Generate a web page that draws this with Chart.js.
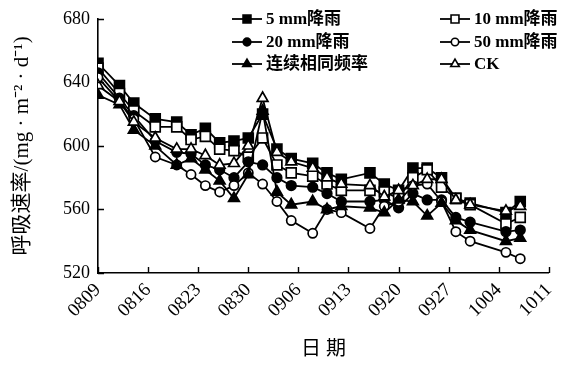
<!DOCTYPE html>
<html>
<head>
<meta charset="utf-8">
<script src="https://cdn.jsdelivr.net/npm/chart.js@4.4.1/dist/chart.umd.min.js"></script>
<style>
  html, body { margin: 0; padding: 0; background: #ffffff; }
  #wrap { width: 571px; height: 365px; position: relative; }
</style>
</head>
<body>
<div id="wrap"><canvas id="c" width="571" height="365"></canvas></div>
<script>
// Sampling dates (MMDD)
const sampleDates = ['0809','0812','0814','0817','0820','0822','0824','0826','0828','0830',
  '0901','0903','0905','0908','0910','0912','0916','0918','0920','0922',
  '0924','0926','0928','0930','1005','1007'];

// Axis tick labels (weekly)
const tickLabels = ['0809','0816','0823','0830','0906','0913','0920','0927','1004','1011'];

// Soil respiration rate, mg·m⁻²·d⁻¹
const rain5  = [652,638,627,617,615,607,611,602,603,605,620,598,592,589,583,579,583,576,572,586,586,580,567,564,558,565];
const rain10 = [649,633,622,612,612,604,606,598,597,593,605,588,583,581,576,572,572,571,567,580,585,574,567,563,551,555];
const rain20 = [646,630,619,603,596,595,588,585,580,590,588,580,575,574,570,565,565,566,561,570,566,566,555,552,546,547];
const rain50 = [643,628,617,593,588,582,575,571,575,583,576,565,553,545,560,558,548,562,565,575,576,565,546,540,533,529];
const steady = [632,626,610,600,588,592,585,578,567,582,622,571,563,565,560,562,561,558,566,565,556,564,553,547,540,542];
const ck     = [638,628,615,605,598,598,594,588,589,600,630,596,590,586,580,576,575,568,572,575,579,579,566,563,559,562];

const seriesNames = ['5 mm降雨','10 mm降雨','20 mm降雨','50 mm降雨','连续相同频率','CK'];

function dayOffset(mmdd) {
  const base = Date.UTC(2000, 7, 9);
  const d = Date.UTC(2000, parseInt(mmdd.slice(0, 2), 10) - 1, parseInt(mmdd.slice(2), 10));
  return Math.round((d - base) / 86400000);
}
const xDays = sampleDates.map(dayOffset);
const xMax = dayOffset(tickLabels[tickLabels.length - 1]);

const styles = [
  { pointStyle: 'rect',     fill: '#000', radius: 7.0 },
  { pointStyle: 'rect',     fill: '#fff', radius: 7.0 },
  { pointStyle: 'circle',   fill: '#000', radius: 4.8 },
  { pointStyle: 'circle',   fill: '#fff', radius: 4.6 },
  { pointStyle: 'triangle', fill: '#000', radius: 6.2 },
  { pointStyle: 'triangle', fill: '#fff', radius: 6.2 }
];
const values = [rain5, rain10, rain20, rain50, steady, ck];

const datasets = values.map((v, i) => ({
  label: seriesNames[i],
  data: v.map((y, k) => ({ x: xDays[k], y: y })),
  borderColor: '#000',
  borderWidth: 1.8,
  backgroundColor: styles[i].fill,
  pointStyle: styles[i].pointStyle,
  pointRadius: styles[i].radius,
  pointBorderWidth: 1.7,
  pointBorderColor: '#000',
  pointBackgroundColor: styles[i].fill,
  tension: 0,
  fill: false
})).reverse();

const SERIF = '"Liberation Serif", "Times New Roman", "Noto Sans CJK SC", serif';

// Inward tick marks on both axes
const inwardTicks = {
  id: 'inwardTicks',
  afterDraw(chart) {
    const ctx = chart.ctx;
    const xs = chart.scales.x, ys = chart.scales.y;
    const area = chart.chartArea;
    ctx.save();
    ctx.strokeStyle = '#000';
    ctx.lineWidth = 1.4;
    ctx.beginPath();
    xs.ticks.forEach(t => {
      const px = Math.round(xs.getPixelForValue(t.value)) + 0.5;
      ctx.moveTo(px, area.bottom);
      ctx.lineTo(px, area.bottom - 6);
    });
    ys.ticks.forEach(t => {
      const py = Math.round(ys.getPixelForValue(t.value)) + 0.5;
      ctx.moveTo(area.left, py);
      ctx.lineTo(area.left + 6, py);
    });
    ctx.stroke();
    ctx.restore();
  }
};

// Two-column legend inside the plot area
const innerLegend = {
  id: 'innerLegend',
  afterDraw(chart) {
    const ctx = chart.ctx;
    const cols = [232, 440];
    const rows = [19, 42, 64];
    ctx.save();
    ctx.font = 'bold 17px ' + SERIF;
    ctx.textBaseline = 'middle';
    ctx.textAlign = 'left';
    seriesNames.forEach((name, i) => {
      const x0 = cols[i % 2];
      const y0 = rows[Math.floor(i / 2)];
      ctx.strokeStyle = '#000';
      ctx.lineWidth = 1.8;
      ctx.beginPath();
      ctx.moveTo(x0, y0);
      ctx.lineTo(x0 + 30, y0);
      ctx.stroke();
      ctx.fillStyle = styles[i].fill;
      ctx.strokeStyle = '#000';
      ctx.lineWidth = 1.6;
      Chart.helpers.drawPoint(ctx, {
        pointStyle: styles[i].pointStyle,
        radius: styles[i].radius * 0.8,
        rotation: 0,
        borderWidth: 1.6
      }, x0 + 15, y0);
      ctx.fillStyle = '#000';
      ctx.fillText(name, x0 + 34, y0 + 1);
    });
    ctx.restore();
  }
};

new Chart(document.getElementById('c'), {
  type: 'line',
  data: { datasets: datasets },
  plugins: [inwardTicks, innerLegend],
  options: {
    responsive: false,
    animation: false,
    layout: { padding: { top: 18, right: 13, left: 0, bottom: 0 } },
    plugins: { legend: { display: false }, tooltip: { enabled: false } },
    scales: {
      x: {
        type: 'linear',
        min: 0,
        max: xMax,
        afterFit(scale) { scale.height = 92; },
        afterBuildTicks(scale) {
          scale.ticks = tickLabels.map(l => ({ value: dayOffset(l) }));
        },
        grid: { display: false, drawTicks: false },
        border: { display: true, color: '#000', width: 1.6 },
        ticks: {
          autoSkip: false,
          minRotation: 45,
          maxRotation: 45,
          padding: 6,
          color: '#000',
          font: { family: SERIF, size: 19 },
          callback(value) {
            const i = tickLabels.findIndex(l => dayOffset(l) === value);
            return i >= 0 ? tickLabels[i] : '';
          }
        },
        title: {
          display: true,
          text: '日 期',
          color: '#000',
          font: { family: SERIF, size: 20 },
          padding: { top: 0, bottom: 3 }
        }
      },
      y: {
        min: 520,
        max: 680,
        afterFit(scale) { scale.width = 98; },
        grid: { display: false, drawTicks: false },
        border: { display: true, color: '#000', width: 1.6 },
        ticks: {
          stepSize: 40,
          padding: 8,
          color: '#000',
          font: { family: SERIF, size: 18 }
        },
        title: {
          display: true,
          text: '呼吸速率/(mg · m⁻² · d⁻¹)',
          color: '#000',
          font: { family: SERIF, size: 21 },
          padding: { top: 10, bottom: 0 }
        }
      }
    }
  }
});
</script>
</body>
</html>
